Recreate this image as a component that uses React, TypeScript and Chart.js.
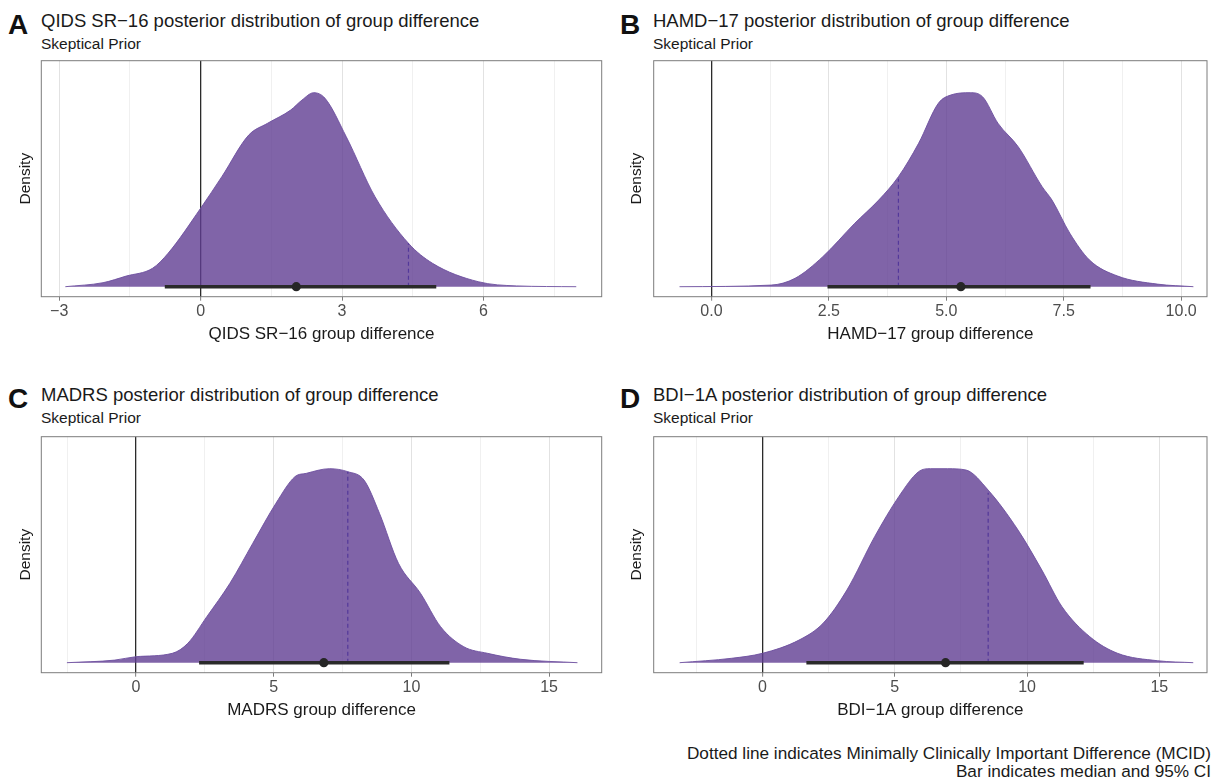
import React, { useEffect, useRef } from "react";
import { Chart, registerables } from "chart.js";

Chart.register(...registerables);

const FONT = "'Liberation Sans', Arial, Helvetica, sans-serif";
Chart.defaults.font.family = FONT;

// ---------- Panel A: QIDS SR-16 ----------
const qidsX = [-2.87, -2.07, -1.58, -1.02, -0.69, 0, 0.45, 1.02, 1.42, 1.91, 2.15, 2.4, 2.64, 3.09, 3.7, 4.41, 4.92, 5.89, 6.7, 7.97];
const qidsDensity = [0, 0.02, 0.053, 0.092, 0.167, 0.392, 0.55, 0.758, 0.817, 0.883, 0.933, 0.97, 0.942, 0.75, 0.45, 0.217, 0.117, 0.025, 0.004, 0];
const qidsInterval = [-0.76, 5.0];
const qidsMedian = 2.03;
const qidsMcid = 4.41;
const qidsMcidHeight = 0.217;
const qidsMajorTicks = [-3, 0, 3, 6];
const qidsTickLabels = ["−3", "0", "3", "6"];
const qidsMinorTicks = [-1.5, 1.5, 4.5, 7.5];
const qidsRange = [-3.38, 8.51];

// ---------- Panel B: HAMD-17 ----------
const hamdX = [-0.68, 1.27, 1.78, 2.37, 3.05, 3.56, 3.98, 4.41, 4.83, 5.09, 5.51, 5.77, 6.1, 6.53, 7.04, 7.25, 7.63, 8.05, 8.65, 9.49, 10.26];
const hamdDensity = [0, 0.008, 0.042, 0.15, 0.317, 0.433, 0.55, 0.717, 0.917, 0.958, 0.97, 0.95, 0.817, 0.7, 0.5, 0.433, 0.267, 0.133, 0.053, 0.013, 0];
const hamdInterval = [2.47, 8.07];
const hamdMedian = 5.31;
const hamdMcid = 3.98;
const hamdMcidHeight = 0.54;
const hamdMajorTicks = [0, 2.5, 5, 7.5, 10];
const hamdTickLabels = ["0.0", "2.5", "5.0", "7.5", "10.0"];
const hamdMinorTicks = [1.25, 3.75, 6.25, 8.75];
const hamdRange = [-1.23, 10.55];

// ---------- Panel C: MADRS ----------
const madrsX = [-2.51, -0.77, 0, 1.32, 1.88, 2.57, 3.41, 4.24, 5.08, 5.77, 6.19, 7.03, 7.69, 8.28, 8.84, 9.53, 10.33, 11.06, 11.9, 12.76, 13.97, 16.03];
const madrsDensity = [0, 0.013, 0.03, 0.047, 0.097, 0.23, 0.397, 0.597, 0.797, 0.93, 0.947, 0.97, 0.955, 0.913, 0.747, 0.497, 0.347, 0.18, 0.08, 0.047, 0.017, 0];
const madrsInterval = [2.29, 11.38];
const madrsMedian = 6.82;
const madrsMcid = 7.69;
const madrsMcidHeight = 0.955;
const madrsMajorTicks = [0, 5, 10, 15];
const madrsTickLabels = ["0", "5", "10", "15"];
const madrsMinorTicks = [-2.5, 2.5, 7.5, 12.5];
const madrsRange = [-3.44, 16.91];

// ---------- Panel D: BDI-1A ----------
const bdiX = [-3.13, -1.17, 0, 1.38, 2.29, 3.19, 4.24, 5.15, 5.9, 6.35, 7.0, 7.7, 8.53, 9.66, 10.56, 11.32, 12.37, 13.42, 14.92, 16.28];
const bdiDensity = [0, 0.022, 0.047, 0.113, 0.197, 0.363, 0.63, 0.83, 0.955, 0.97, 0.97, 0.963, 0.863, 0.663, 0.463, 0.28, 0.13, 0.047, 0.01, 0];
const bdiInterval = [1.66, 12.14];
const bdiMedian = 6.92;
const bdiMcid = 8.53;
const bdiMcidHeight = 0.85;
const bdiMajorTicks = [0, 5, 10, 15];
const bdiTickLabels = ["0", "5", "10", "15"];
const bdiMinorTicks = [-2.5, 2.5, 7.5, 12.5];
const bdiRange = [-4.11, 16.8];

const densityRange = [-0.05, 1.13];

type PanelSpec = {
  letter: string;
  title: string;
  xTitle: string;
  xs: number[];
  dens: number[];
  interval: number[];
  median: number;
  mcid: number;
  mcidHeight: number;
  major: number[];
  labels: string[];
  minor: number[];
  range: number[];
  left: number;
  top: number;
  width: number;
  height: number;
  padTop: number;
  padRight: number;
  yWidth: number;
  xHeight: number;
  yTitlePad: number;
};

const panelBorder = {
  id: "panelBorder",
  afterDraw(chart: any) {
    const { ctx, chartArea } = chart;
    ctx.save();
    ctx.strokeStyle = "#7c7c7c";
    ctx.lineWidth = 1;
    ctx.strokeRect(chartArea.left, chartArea.top, chartArea.right - chartArea.left, chartArea.bottom - chartArea.top);
    ctx.restore();
  },
};

function Panel({ spec }: { spec: PanelSpec }) {
  const ref = useRef<HTMLCanvasElement>(null);
  useEffect(() => {
    if (!ref.current) return;
    const isMajor = (v: number) => spec.major.some((m) => Math.abs(m - v) < 1e-9);
    const chart = new Chart(ref.current, {
      type: "line",
      data: {
        datasets: [
          {
            data: [{ x: spec.median, y: 0 }],
            showLine: false,
            pointRadius: 4.6,
            pointBackgroundColor: "#262626",
            pointBorderColor: "#262626",
            pointBorderWidth: 0,
            order: 1,
          },
          {
            data: spec.interval.map((v) => ({ x: v, y: 0 })),
            borderColor: "#2a2a2a",
            borderWidth: 3.6,
            borderCapStyle: "butt",
            pointRadius: 0,
            order: 2,
          },
          {
            data: [
              { x: spec.mcid, y: 0 },
              { x: spec.mcid, y: spec.mcidHeight },
            ],
            borderColor: "#53389a",
            borderWidth: 1.2,
            borderDash: [4, 3],
            pointRadius: 0,
            order: 3,
          },
          {
            data: spec.xs.map((x, i) => ({ x, y: spec.dens[i] })),
            borderWidth: 1,
            borderColor: "rgba(110,80,160,0.9)",
            backgroundColor: "rgba(96,61,146,0.8)",
            fill: "origin",
            cubicInterpolationMode: "monotone",
            pointRadius: 0,
            order: 4,
          },
        ],
      },
      options: {
        animation: false,
        responsive: false,
        events: [],
        layout: { padding: { left: 0, top: spec.padTop, right: spec.padRight, bottom: 0 } },
        plugins: { legend: { display: false }, tooltip: { enabled: false } },
        scales: {
          x: {
            type: "linear",
            min: spec.range[0],
            max: spec.range[1],
            afterBuildTicks: (s: any) => {
              s.ticks = [...spec.major, ...spec.minor].sort((a, b) => a - b).map((v) => ({ value: v }));
            },
            afterFit: (s: any) => {
              s.height = spec.xHeight;
            },
            ticks: {
              autoSkip: false,
              maxRotation: 0,
              padding: 1,
              color: "#4d4d4d",
              font: { size: 16, family: FONT },
              callback: (v: any) => {
                const i = spec.major.findIndex((m) => Math.abs(m - Number(v)) < 1e-9);
                return i >= 0 ? spec.labels[i] : "";
              },
            },
            grid: {
              drawTicks: true,
              tickLength: 4,
              color: (c: any) => {
                const v = c.tick ? c.tick.value : NaN;
                if (Math.abs(v) < 1e-9) return "#2b2b2b";
                return isMajor(v) ? "#e2e2e2" : "#ececec";
              },
              lineWidth: (c: any) => {
                const v = c.tick ? c.tick.value : NaN;
                if (Math.abs(v) < 1e-9) return 1.3;
                return isMajor(v) ? 1 : 0.8;
              },
              tickColor: (c: any) => {
                const v = c.tick ? c.tick.value : NaN;
                return isMajor(v) ? "#7c7c7c" : "rgba(0,0,0,0)";
              },
              tickWidth: 1,
            },
            border: { display: false },
            title: {
              display: true,
              text: spec.xTitle,
              color: "#1a1a1a",
              font: { size: 17, family: FONT },
              padding: { top: 0, bottom: 0 },
            },
          },
          y: {
            type: "linear",
            min: densityRange[0],
            max: densityRange[1],
            afterFit: (s: any) => {
              s.width = spec.yWidth;
            },
            ticks: { display: false },
            grid: { display: false },
            border: { display: false },
            title: {
              display: true,
              text: "Density",
              color: "#1a1a1a",
              font: { size: 15.5, family: FONT },
              padding: { top: spec.yTitlePad, bottom: 0 },
            },
          },
        },
      },
      plugins: [panelBorder],
    } as any);
    return () => chart.destroy();
  }, [spec]);

  return (
    <canvas
      ref={ref}
      width={spec.width}
      height={spec.height}
      style={{ position: "absolute", left: spec.left, top: spec.top, width: spec.width, height: spec.height }}
    />
  );
}

const rowOffset = 375.5;

const panels: PanelSpec[] = [
  {
    letter: "A",
    title: "QIDS SR−16 posterior distribution of group difference",
    xTitle: "QIDS SR−16 group difference",
    xs: qidsX, dens: qidsDensity, interval: qidsInterval, median: qidsMedian,
    mcid: qidsMcid, mcidHeight: qidsMcidHeight,
    major: qidsMajorTicks, labels: qidsTickLabels, minor: qidsMinorTicks, range: qidsRange,
    left: 0, top: 50, width: 610, height: 295,
    padTop: 10.7, padRight: 8.3, yWidth: 41.3, xHeight: 48.3, yTitlePad: 16,
  },
  {
    letter: "B",
    title: "HAMD−17 posterior distribution of group difference",
    xTitle: "HAMD−17 group difference",
    xs: hamdX, dens: hamdDensity, interval: hamdInterval, median: hamdMedian,
    mcid: hamdMcid, mcidHeight: hamdMcidHeight,
    major: hamdMajorTicks, labels: hamdTickLabels, minor: hamdMinorTicks, range: hamdRange,
    left: 612, top: 50, width: 607, height: 295,
    padTop: 10.7, padRight: 12, yWidth: 41.7, xHeight: 48.3, yTitlePad: 15.2,
  },
  {
    letter: "C",
    title: "MADRS posterior distribution of group difference",
    xTitle: "MADRS group difference",
    xs: madrsX, dens: madrsDensity, interval: madrsInterval, median: madrsMedian,
    mcid: madrsMcid, mcidHeight: madrsMcidHeight,
    major: madrsMajorTicks, labels: madrsTickLabels, minor: madrsMinorTicks, range: madrsRange,
    left: 0, top: 50 + rowOffset, width: 610, height: 295,
    padTop: 10.7, padRight: 8.3, yWidth: 41.3, xHeight: 48.3, yTitlePad: 16,
  },
  {
    letter: "D",
    title: "BDI−1A posterior distribution of group difference",
    xTitle: "BDI−1A group difference",
    xs: bdiX, dens: bdiDensity, interval: bdiInterval, median: bdiMedian,
    mcid: bdiMcid, mcidHeight: bdiMcidHeight,
    major: bdiMajorTicks, labels: bdiTickLabels, minor: bdiMinorTicks, range: bdiRange,
    left: 612, top: 50 + rowOffset, width: 607, height: 295,
    padTop: 10.7, padRight: 12, yWidth: 41.7, xHeight: 48.3, yTitlePad: 15.2,
  },
];

const textBase: React.CSSProperties = {
  position: "absolute",
  fontFamily: FONT,
  whiteSpace: "nowrap",
  margin: 0,
};

export default function App() {
  return (
    <div style={{ position: "absolute", left: 0, top: 0, width: 1219, height: 780, background: "#ffffff", overflow: "hidden" }}>
      {panels.map((p, i) => {
        const colX = i % 2 === 0 ? 0 : 612;
        const rowY = i < 2 ? 0 : rowOffset - 2;
        return (
          <React.Fragment key={p.letter}>
            <div style={{ ...textBase, left: colX + 8, top: rowY + 9, fontSize: 28, fontWeight: "bold", lineHeight: "32px", color: "#111" }}>
              {p.letter}
            </div>
            <div style={{ ...textBase, left: colX + 41, top: rowY + 9, fontSize: 18.5, lineHeight: "24px", color: "#1a1a1a" }}>
              {p.title}
            </div>
            <div style={{ ...textBase, left: colX + 41, top: rowY + 34, fontSize: 15.5, lineHeight: "20px", color: "#1a1a1a" }}>
              Skeptical Prior
            </div>
            <Panel spec={p} />
          </React.Fragment>
        );
      })}
      <div style={{ ...textBase, right: 8, top: 743.5, fontSize: 17.2, lineHeight: "18.5px", textAlign: "right", color: "#1a1a1a" }}>
        Dotted line indicates Minimally Clinically Important Difference (MCID)
        <br />
        Bar indicates median and 95% CI
      </div>
    </div>
  );
}
